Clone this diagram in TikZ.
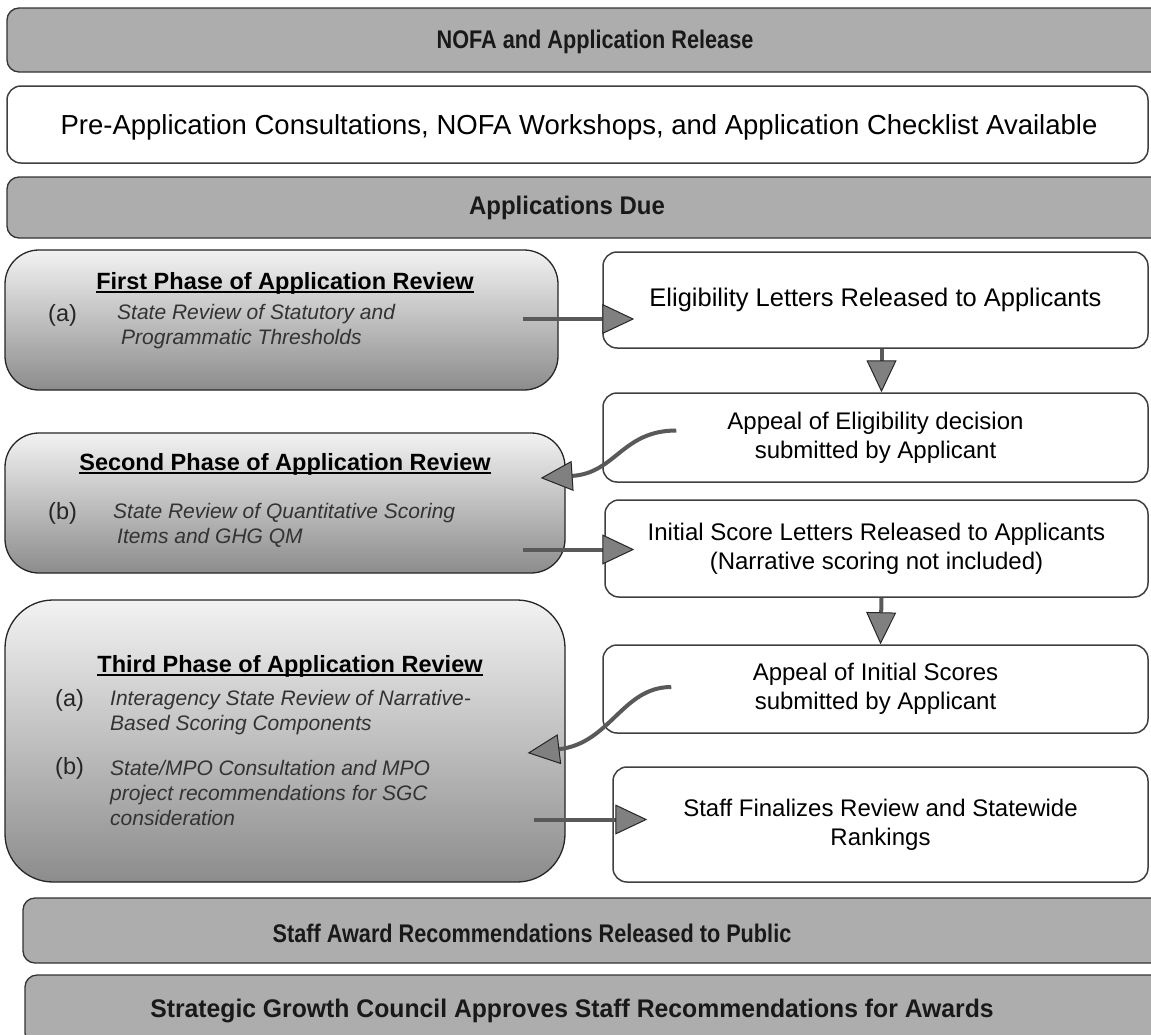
\documentclass[tikz,border=0pt]{standalone}
\usepackage{fontspec}
\setmainfont{Liberation Sans}
\newfontfamily\bandfontA[FakeStretch=0.85]{Liberation Sans}
\newfontfamily\bandfontB[FakeStretch=0.94]{Liberation Sans}
\newfontfamily\bandfontC[FakeStretch=0.97]{Liberation Sans}
\usetikzlibrary{arrows.meta,calc}
\newcommand\myul[1]{\setbox0\hbox{#1}\rlap{\rule[-4pt]{\wd0}{1.6pt}}\box0}
\begin{document}
\begin{tikzpicture}[x=1pt,y=-1pt,
  band/.style={draw=black!80, line width=1.3pt, fill=black!32, rounded corners=12pt, inner sep=0pt},
  whitebox/.style={draw=black!75, line width=1.5pt, fill=white, rounded corners=14pt, inner sep=0pt,
    font=\fontsize{24}{29}\selectfont, align=center},
  phasebox/.style={draw=black!85, line width=1.3pt, top color=black!5, bottom color=black!45, rounded corners=34pt, inner sep=0pt},
  bandtext/.style={font=\bandfontA\bfseries\fontsize{25.5}{30}\selectfont, text=black!90, inner sep=0pt},
  pretext/.style={font=\fontsize{27.5}{32}\selectfont, inner sep=0pt},
  titletext/.style={font=\bfseries\fontsize{23.5}{28}\selectfont, inner sep=0pt},
  lbl/.style={font=\fontsize{23.5}{28}\selectfont, anchor=west, inner sep=0pt, text=black!85},
  item/.style={font=\itshape\fontsize{21}{25}\selectfont, anchor=west, align=left, inner sep=0pt, text=black!80},
  bigarrow/.style={line width=4pt, draw=black!65,
    -{Triangle[width=30pt,length=32pt,line width=1pt,color=black!85,fill=black!50]}}
]
\useasboundingbox (0,0) rectangle (1151,1034);
\clip (0,0) rectangle (1151,1034);
\fill[white] (0,0) rectangle (1151,1034);

% full-width bands
\node[band, minimum width=1168pt, minimum height=64pt] (b1) at (591,40) {};
\node[bandtext] (t1) at (595,42) {NOFA and Application Release};
\node[whitebox, minimum width=1141pt, minimum height=77pt] (b2) at (577.5,124.5) {};
\node[pretext] (t2) at (579,127) {Pre-Application Consultations, NOFA Workshops, and Application Checklist Available};
\node[band, minimum width=1168pt, minimum height=61pt] (b3) at (591,207.5) {};
\node[bandtext, font=\bandfontB\bfseries\fontsize{25.5}{30}\selectfont] (t3) at (567,208) {Applications Due};

% phase boxes (left)
\node[phasebox, minimum width=553pt, minimum height=140pt] (first) at (281.5,320) {};
\node[titletext] (first-t) at (285,283) {\myul{First Phase of Application Review}};
\node[lbl] (first-l) at (48,315) {(a)};
\node[item] (first-i) at (117,327) {State Review of Statutory and\\\hspace*{4pt}Programmatic Thresholds};

\node[phasebox, minimum width=560pt, minimum height=140pt] (second) at (285,503) {};
\node[titletext] (second-t) at (285,464) {\myul{Second Phase of Application Review}};
\node[lbl] (second-l) at (48,513) {(b)};
\node[item] (second-i) at (113,525.5) {State Review of Quantitative Scoring\\\hspace*{4pt}Items and GHG QM};

\node[phasebox, minimum width=560pt, minimum height=282pt, rounded corners=48pt] (third) at (285,741) {};
\node[titletext] (third-t) at (290,666) {\myul{Third Phase of Application Review}};
\node[lbl] (third-la) at (55,700) {(a)};
\node[item] (third-ia) at (110,713) {Interagency State Review of Narrative-\\Based Scoring Components};
\node[lbl] (third-lb) at (55,768) {(b)};
\node[item] (third-ib) at (110,793) {State/MPO Consultation and MPO\\project recommendations for SGC\\consideration};

% right boxes
\node[whitebox, minimum width=545pt, minimum height=96pt, font=\fontsize{25.5}{30}\selectfont] (elig) at (875.5,300) {Eligibility Letters Released to Applicants};
\node[whitebox, minimum width=545pt, minimum height=89pt] (appeal1) at (875.5,437.5) {Appeal of Eligibility decision\\submitted by Applicant};
\node[whitebox, minimum width=543pt, minimum height=97pt] (init) at (876.5,548.5) {Initial Score Letters Released to Applicants\\(Narrative scoring not included)};
\node[whitebox, minimum width=545pt, minimum height=88pt] (appeal2) at (875.5,689) {Appeal of Initial Scores\\submitted by Applicant};
\node[whitebox, minimum width=535pt, minimum height=115pt] (staff) at (880.5,824.5) {Staff Finalizes Review and Statewide\\Rankings};

% bottom bands
\node[band, minimum width=1152pt, minimum height=65pt] (b4) at (599,930.5) {};
\node[bandtext] (t4) at (532,933) {Staff Award Recommendations Released to Public};
\node[band, minimum width=1150pt, minimum height=70pt] (b5) at (600,1010) {};
\node[bandtext, font=\bandfontC\bfseries\fontsize{25.5}{30}\selectfont] (t5) at (572,1011) {Strategic Growth Council Approves Staff Recommendations for Awards};

% connectors
\draw[bigarrow] ($(first.east)+(-36,-1)$) -- ($(elig.west |- first.east)+(32,-1)$);
\draw[bigarrow] ($(elig.south)+(6,0)$) -- ($(appeal1.north)+(6,0)$);
\draw[bigarrow] ($(appeal1.west)+(74,-7)$) .. controls ($(appeal1.west)+(20,-7)$) and ($(second.east)+(50,-30)$) .. ($(second.east)+(-25,-25)$);
\draw[bigarrow] ($(second.east |- init.west)+(-43,1)$) -- ($(init.west)+(30,1)$);
\draw[bigarrow] ($(init.south)+(5,0)$) -- ($(appeal2.north)+(5,0)$);
\draw[bigarrow] ($(appeal2.west)+(69,-2)$) .. controls ($(appeal2.west)+(20,-2)$) and ($(third.east)+(45,2)$) .. ($(third.east)+(-38,12)$);
\draw[bigarrow] ($(third.east |- staff.west)+(-32,-5)$) -- ($(staff.west)+(35,-5)$);
\end{tikzpicture}
\end{document}
